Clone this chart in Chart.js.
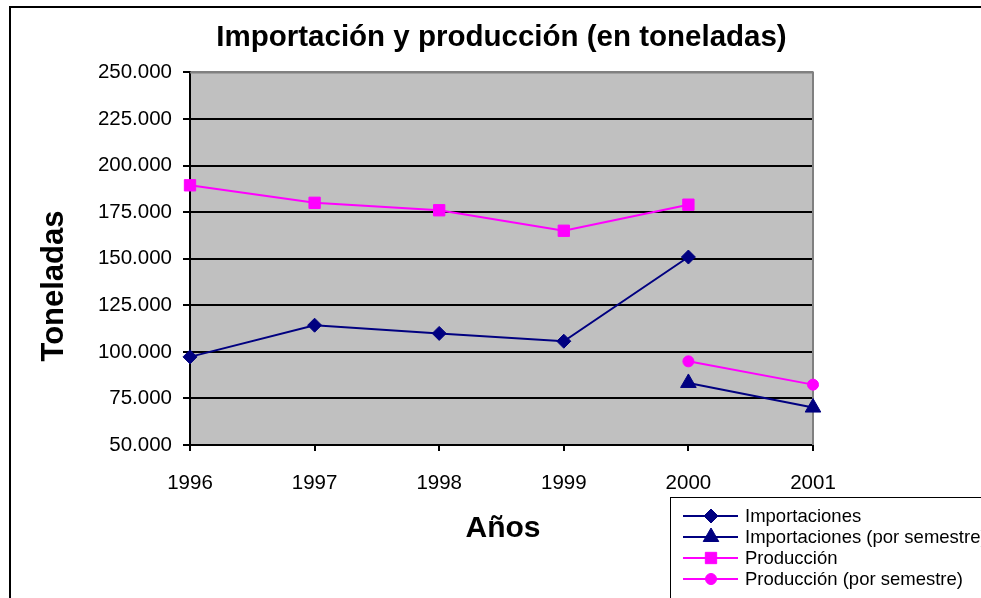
<!DOCTYPE html>
<html>
<head>
<meta charset="utf-8">
<script src="https://cdn.jsdelivr.net/npm/chart.js@4.4.0/dist/chart.umd.min.js"></script>
<style>
  html, body { margin: 0; padding: 0; background: #fff; }
  #wrap { width: 981px; height: 598px; }
</style>
</head>
<body>
<div id="wrap"><canvas id="chart" width="981" height="598"></canvas></div>
<script>
const years = ['1996', '1997', '1998', '1999', '2000', '2001'];
const importaciones = [97300, 114300, 109900, 105700, 150900, null];
const importacionesSemestre = [null, null, null, null, 83300, 70100];
const produccion = [189400, 180000, 176000, 165000, 179000, null];
const produccionSemestre = [null, null, null, null, 94900, 82400];
const yMin = 50000, yMax = 250000, yStep = 25000;

const NAVY = '#000080', MAGENTA = '#ff00ff';

// 250000 -> "250.000"
const fmt = v => String(v).replace(/\B(?=(\d{3})+(?!\d))/g, '.');

const frame = {
  id: 'frame',
  beforeDraw(chart) {
    const { ctx, chartArea: a } = chart;
    ctx.save();
    ctx.fillStyle = '#fff';
    ctx.fillRect(0, 0, chart.width, chart.height);
    ctx.fillStyle = '#c0c0c0';
    ctx.fillRect(a.left, a.top, a.right - a.left, a.bottom - a.top);
    ctx.restore();
  },
  beforeDatasetsDraw(chart) {
    const { ctx, chartArea: a } = chart;
    ctx.save();
    ctx.strokeStyle = '#808080';
    ctx.lineWidth = 2;
    ctx.beginPath();
    ctx.moveTo(a.left, a.top);
    ctx.lineTo(a.right, a.top);
    ctx.lineTo(a.right, a.bottom);
    ctx.stroke();
    ctx.restore();
  },
  afterDraw(chart) {
    const ctx = chart.ctx;
    ctx.save();
    ctx.strokeStyle = '#000';
    ctx.lineWidth = 2;
    ctx.strokeRect(10, 7, 1000, 700);

    ctx.fillStyle = '#000';
    ctx.textAlign = 'center';
    ctx.textBaseline = 'middle';
    ctx.font = 'bold 30px Arial';
    ctx.fillText('Años', 503, 529);
    ctx.font = 'bold 31px Arial';
    ctx.translate(54, 286);
    ctx.rotate(-Math.PI / 2);
    ctx.fillText('Toneladas', 0, 0);
    ctx.restore();

    // legend box, runs off the canvas like the original
    ctx.save();
    ctx.fillStyle = '#fff';
    ctx.fillRect(670.5, 497.5, 400, 200);
    ctx.strokeStyle = '#000';
    ctx.lineWidth = 1;
    ctx.strokeRect(670.5, 497.5, 400, 200);
    const rows = [516, 537, 558, 579];
    chart.data.datasets.forEach((ds, i) => {
      const y = rows[i];
      ctx.strokeStyle = ds.borderColor;
      ctx.lineWidth = 2;
      ctx.beginPath();
      ctx.moveTo(683, y);
      ctx.lineTo(738, y);
      ctx.stroke();
      ctx.fillStyle = ds.backgroundColor;
      ctx.strokeStyle = ds.borderColor;
      ctx.lineWidth = 1;
      Chart.helpers.drawPoint(ctx, { pointStyle: ds.pointStyle, radius: ds.pointRadius, rotation: 0, borderWidth: 1 }, 711, y);
      ctx.fillStyle = '#000';
      ctx.font = '18.5px Arial';
      ctx.textAlign = 'left';
      ctx.textBaseline = 'middle';
      ctx.fillText(ds.label, 745, y + 1);
    });
    ctx.restore();
  }
};

new Chart(document.getElementById('chart'), {
  type: 'line',
  data: {
    labels: years,
    datasets: [
      { label: 'Importaciones', data: importaciones, borderColor: NAVY, backgroundColor: NAVY,
        pointStyle: 'rectRot', pointRadius: 7, borderWidth: 2, pointBorderWidth: 1, clip: false },
      { label: 'Importaciones (por semestre)', data: importacionesSemestre, borderColor: NAVY, backgroundColor: NAVY,
        pointStyle: 'triangle', pointRadius: 9, borderWidth: 2, pointBorderWidth: 1, clip: false },
      { label: 'Producción', data: produccion, borderColor: MAGENTA, backgroundColor: MAGENTA,
        pointStyle: 'rect', pointRadius: 8, borderWidth: 2, pointBorderWidth: 1, clip: false },
      { label: 'Producción (por semestre)', data: produccionSemestre, borderColor: MAGENTA, backgroundColor: MAGENTA,
        pointStyle: 'circle', pointRadius: 5.5, borderWidth: 2, pointBorderWidth: 1, clip: false }
    ]
  },
  options: {
    responsive: false,
    animation: false,
    events: [],
    layout: { padding: { left: 12, right: 168, top: 0, bottom: 0 } },
    plugins: {
      legend: { display: false },
      tooltip: { enabled: false },
      title: {
        display: true,
        text: 'Importación y producción (en toneladas)',
        fullSize: false,
        color: '#000',
        font: { family: 'Arial', size: 29.5, weight: 'bold' },
        padding: { top: 20, bottom: 17 }
      }
    },
    scales: {
      x: {
        type: 'category',
        offset: false,
        grid: { display: true, drawOnChartArea: false, color: '#000', lineWidth: 2, tickLength: 6 },
        border: { display: true, color: '#000', width: 2 },
        ticks: { color: '#000', font: { family: 'Arial', size: 20.5 }, padding: 20, maxRotation: 0, autoSkip: false },
        afterFit(scale) { scale.height = 153; }
      },
      y: {
        min: yMin,
        max: yMax,
        grid: {
          color: c => (c.tick && c.tick.value === yMax ? '#808080' : '#000'),
          tickColor: '#000',
          lineWidth: 2,
          tickLength: 7
        },
        border: { display: true, color: '#000', width: 2 },
        ticks: {
          stepSize: yStep,
          color: '#000',
          font: { family: 'Arial', size: 20.5 },
          padding: 11,
          callback: v => fmt(v)
        },
        afterFit(scale) { scale.width = 178; }
      }
    }
  },
  plugins: [frame]
});
</script>
</body>
</html>
